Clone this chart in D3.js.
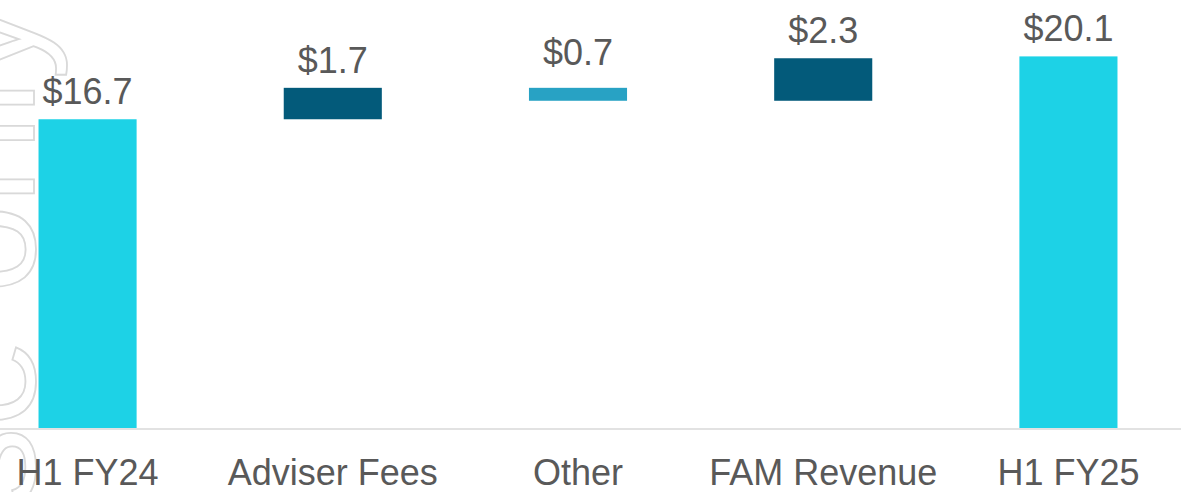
<!DOCTYPE html>
<html>
  <head>
    <meta charset="utf-8" />
    <script src="https://cdn.jsdelivr.net/npm/d3@7"></script>
    <style>
      body {
        margin: 0;
        background: #fff;
      }
      text {
        font-family: "Liberation Sans", Arial, sans-serif;
      }
    </style>
  </head>
  <body>
    <div id="my_chart"></div>
    <script>
      // chart data
      const categories = ["H1 FY24", "Adviser Fees", "Other", "FAM Revenue", "H1 FY25"];
      const values = [16.7, 1.7, -0.7, 2.3, 20.1];
      const kinds = ["total", "delta", "delta", "delta", "total"];

      const width = 1181,
        height = 492,
        baseline = 428;

      const svg = d3
        .select("#my_chart")
        .append("svg")
        .attr("width", width)
        .attr("height", height);

      // watermark down the left edge
      svg
        .append("text")
        .attr("transform", "translate(34,0) rotate(-90)")
        .attr("text-anchor", "end")
        .attr("font-size", 160)
        .attr("fill", "none")
        .attr("stroke", "#d9d9d9")
        .attr("stroke-width", 1.8)
        .text("For personal use only");

      // work out waterfall start/end for every bar
      let running = 0;
      const bars = categories.map((c, i) => {
        let y0, y1;
        if (kinds[i] === "total") {
          y0 = 0;
          y1 = values[i];
          running = values[i];
        } else {
          y0 = running;
          y1 = running + values[i];
          running = y1;
        }
        return { cat: c, value: values[i], kind: kinds[i], y0: y0, y1: y1 };
      });

      const x = d3
        .scaleBand()
        .domain(categories)
        .range([14, 1142])
        .paddingInner(0.6)
        .paddingOuter(0.1);

      const y = d3.scaleLinear().domain([0, 20.1]).range([baseline, 56.4]);

      const color = (d) =>
        d.kind === "total" ? "#1dd2e6" : d.value < 0 ? "#28a2c4" : "#035a7a";

      svg
        .selectAll(".bar")
        .data(bars)
        .enter()
        .append("rect")
        .attr("class", "bar")
        .attr("x", (d) => x(d.cat))
        .attr("width", x.bandwidth())
        .attr("y", (d) => y(Math.max(d.y0, d.y1)))
        .attr("height", (d) => Math.abs(y(d.y0) - y(d.y1)))
        .attr("fill", color);

      // axis line
      svg
        .append("line")
        .attr("x1", 0)
        .attr("x2", width)
        .attr("y1", baseline + 1)
        .attr("y2", baseline + 1)
        .attr("stroke", "#d9d9d9")
        .attr("stroke-width", 1.5);

      // category labels
      svg
        .append("g")
        .attr("transform", "translate(0," + baseline + ")")
        .call(d3.axisBottom(x).tickSize(0).tickPadding(0))
        .call((g) => g.select(".domain").remove())
        .selectAll("text")
        .attr("dy", null)
        .attr("y", 57)
        .attr("font-size", 36)
        .attr("font-family", "Liberation Sans, Arial, sans-serif")
        .attr("fill", "#595959");

      // value labels
      svg
        .selectAll(".val")
        .data(bars)
        .enter()
        .append("text")
        .attr("class", "val")
        .attr("x", (d) => x(d.cat) + x.bandwidth() / 2)
        .attr("y", (d) => y(Math.max(d.y0, d.y1)) - (d.value < 0 ? 23 : 15))
        .attr("text-anchor", "middle")
        .attr("font-size", 36)
        .attr("fill", "#595959")
        .text((d) => "$" + Math.abs(d.value).toFixed(1));
    </script>
  </body>
</html>
